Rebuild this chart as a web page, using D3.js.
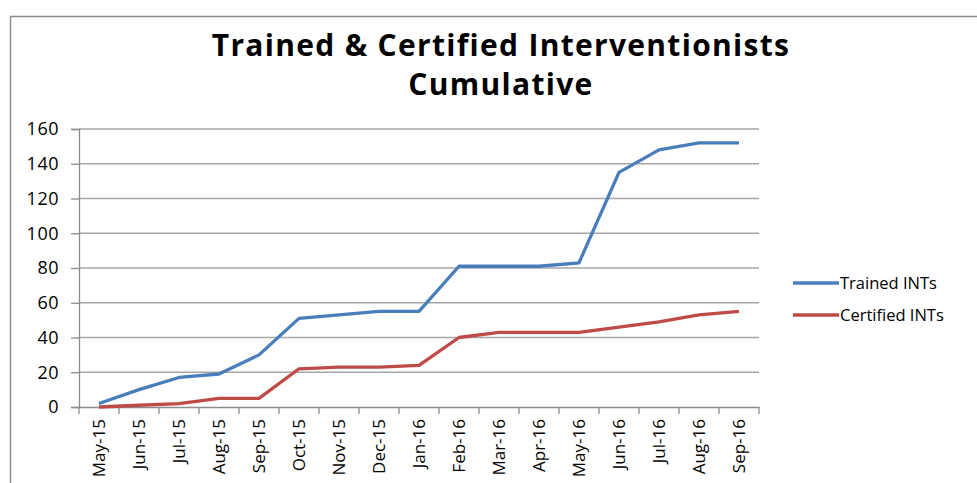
<!DOCTYPE html>
<html>
<head>
<meta charset="utf-8">
<script src="https://cdnjs.cloudflare.com/ajax/libs/d3/7.8.5/d3.min.js"></script>
<style>
  body { margin: 0; background: #fff; }
  svg { display: block; }
  text { font-family: "Open Sans", "DejaVu Sans", sans-serif; fill: #000; }
</style>
</head>
<body>
<svg id="chart" width="977" height="483"></svg>
<script>
var months = ["May-15","Jun-15","Jul-15","Aug-15","Sep-15","Oct-15","Nov-15","Dec-15","Jan-16",
  "Feb-16","Mar-16","Apr-16","May-16","Jun-16","Jul-16","Aug-16","Sep-16"];
var trained = [2, 10, 17, 19, 30, 51, 53, 55, 55, 81, 81, 81, 83, 135, 148, 152, 152];
var certified = [0, 1, 2, 5, 5, 22, 23, 23, 24, 40, 43, 43, 43, 46, 49, 53, 55];
var yTicks = [0, 20, 40, 60, 80, 100, 120, 140, 160];
var seriesNames = ["Trained INTs", "Certified INTs"];
var seriesColors = ["#4a7ebb", "#be4b48"];

var svg = d3.select("#chart");

// outer chart border
svg.append("path")
  .attr("d", "M10.5,483 L10.5,16.5 L977,16.5")
  .attr("fill", "none")
  .attr("stroke", "#8c8c8c")
  .attr("stroke-width", 1.5);

var plotL = 79, plotR = 759, plotT = 129, plotB = 407;

var x = d3.scaleBand().domain(months).range([plotL, plotR]);
var y = d3.scaleLinear().domain([0, 160]).range([plotB, plotT]);

// title
svg.append("text").attr("x", 501).attr("y", 56).attr("text-anchor", "middle")
  .style("font-size", "30px").style("font-weight", "bold").style("letter-spacing", "1.3px")
  .text("Trained & Certified Interventionists");
svg.append("text").attr("x", 501).attr("y", 95).attr("text-anchor", "middle")
  .style("font-size", "30px").style("font-weight", "bold").style("letter-spacing", "1.3px")
  .text("Cumulative");

// gridlines
svg.append("g").selectAll("line")
  .data(yTicks.filter(function(d){ return d > 0; }))
  .enter().append("line")
  .attr("x1", plotL).attr("x2", plotR)
  .attr("y1", function(d){ return y(d); })
  .attr("y2", function(d){ return y(d); })
  .attr("stroke", "#a6a6a6").attr("stroke-width", 1.3);

// y axis
var yAxis = svg.append("g")
  .attr("transform", "translate(" + plotL + ",0)")
  .call(d3.axisLeft(y).tickValues(yTicks).tickSize(8).tickPadding(12));
yAxis.select(".domain").attr("stroke", "#8c8c8c").attr("stroke-width", 1.3);
yAxis.selectAll(".tick line").attr("stroke", "#8c8c8c").attr("stroke-width", 1.3);
yAxis.selectAll("text").style("font-size", "18px").style("letter-spacing", "0.5px").attr("fill", "#000");

// x axis
var xAxis = svg.append("g")
  .attr("transform", "translate(0," + plotB + ")")
  .call(d3.axisBottom(x).tickSize(0).tickSizeOuter(0));
xAxis.select(".domain").attr("stroke", "#8c8c8c").attr("stroke-width", 1.3);
xAxis.selectAll(".tick line").remove();
xAxis.selectAll("text")
  .style("font-size", "17px").attr("fill", "#000")
  .attr("transform", "rotate(-90)")
  .attr("text-anchor", "end")
  .attr("x", -12).attr("y", 0).attr("dy", "0.35em");

// category boundary ticks
var bounds = months.map(function(m){ return x(m); }).concat([plotR]);
svg.append("g").selectAll("line")
  .data(bounds).enter().append("line")
  .attr("x1", function(d){ return d; }).attr("x2", function(d){ return d; })
  .attr("y1", plotB).attr("y2", plotB + 7)
  .attr("stroke", "#8c8c8c").attr("stroke-width", 1.3);

// lines
var line = d3.line()
  .x(function(d, i){ return x(months[i]) + x.bandwidth() / 2; })
  .y(function(d){ return y(d); });

[trained, certified].forEach(function(s, i){
  svg.append("path")
    .datum(s)
    .attr("fill", "none")
    .attr("stroke", seriesColors[i])
    .attr("stroke-width", 3.3)
    .attr("stroke-linejoin", "round")
    .attr("d", line);
});

// legend
var legend = svg.append("g").attr("transform", "translate(793,283)");
seriesNames.forEach(function(n, i){
  var g = legend.append("g").attr("transform", "translate(0," + (i * 32) + ")");
  g.append("line").attr("x1", 0).attr("x2", 46).attr("y1", 0).attr("y2", 0)
    .attr("stroke", seriesColors[i]).attr("stroke-width", 3.3);
  g.append("text").attr("x", 47).attr("y", 0).attr("dy", "0.35em")
    .style("font-size", "16.5px").text(n);
});
</script>
</body>
</html>
